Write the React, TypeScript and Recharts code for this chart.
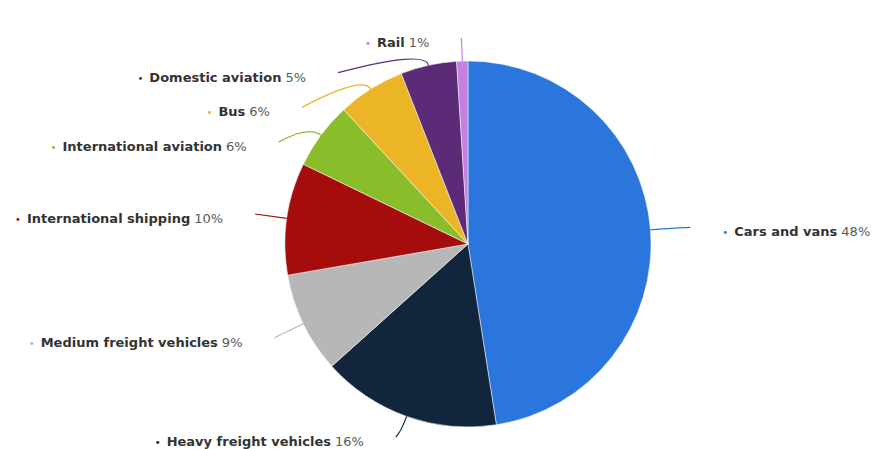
import { PieChart, Pie, Cell } from 'recharts';

const categories = [
  'Cars and vans',
  'Heavy freight vehicles',
  'Medium freight vehicles',
  'International shipping',
  'International aviation',
  'Bus',
  'Domestic aviation',
  'Rail',
];
const shares = [48, 16, 9, 10, 6, 6, 5, 1];
const colors = ['#2a76dd', '#11263d', '#b7b7b7', '#a50d0d', '#8abd2a', '#ebb527', '#5b2b77', '#c47fe0'];

const data = categories.map((name, i) => ({ name, value: shares[i] }));

const W = 876;
const H = 449;
const CX = 468;
const CY = 244;
const R = 183;
const LABEL_R = 215; // where connectors end
const RIGHT_EXTRA = 8; // right-hand labels sit a bit further out
const GAP = 32; // connector end -> text
const ROW = 34.7; // min vertical spacing between labels
const TOP = 38;
const BOTTOM = 437;
const RAD = Math.PI / 180;
const FONT = '"DejaVu Sans", "Open Sans", sans-serif';

interface LabelPos {
  left: boolean;
  y: number;
  x: number;
}

// rough Highcharts-style label distribution
function layoutLabels(): LabelPos[] {
  const total = shares.reduce((a, b) => a + b, 0);
  let acc = 0;
  const items = shares.map((v) => {
    const mid = 90 - ((acc + v / 2) / total) * 360;
    acc += v;
    const naturalY = CY - LABEL_R * Math.sin(mid * RAD);
    return { left: Math.cos(mid * RAD) < 0, naturalY, y: naturalY, clamped: false };
  });
  [true, false].forEach((side) => {
    const list = items.filter((it) => it.left === side).sort((a, b) => a.naturalY - b.naturalY);
    let prev = -Infinity;
    list.forEach((it) => {
      let y = Math.max(it.naturalY, prev + ROW);
      if (y < TOP) { y = TOP; it.clamped = true; }
      if (y > BOTTOM) { y = BOTTOM; it.clamped = true; }
      it.y = y;
      prev = y;
    });
  });
  return items.map((it) => {
    const dy = (it.clamped ? it.naturalY : it.y) - CY;
    const dx = Math.sqrt(Math.max(0, LABEL_R * LABEL_R - dy * dy));
    return { left: it.left, y: it.y, x: it.left ? CX - dx : CX + dx + RIGHT_EXTRA };
  });
}

const labelPos = layoutLabels();

function SliceLabel(props: any) {
  const { cx, cy, midAngle, outerRadius, index } = props;
  const p = labelPos[index];
  const color = colors[index];
  const ex = cx + outerRadius * Math.cos(-midAngle * RAD);
  const ey = cy + outerRadius * Math.sin(-midAngle * RAD);
  const kx = cx + (outerRadius + 16) * Math.cos(-midAngle * RAD);
  const ky = cy + (outerRadius + 16) * Math.sin(-midAngle * RAD);
  const tx = p.left ? p.x - GAP : p.x + GAP;
  return (
    <g>
      <path d={`M${ex},${ey} Q${kx},${ky} ${p.x},${p.y}`} stroke={color} strokeWidth={1.2} fill="none" />
      <text
        x={tx}
        y={p.y + 9}
        textAnchor={p.left ? 'end' : 'start'}
        fontFamily={FONT}
        fontSize={13}
      >
        <tspan fill={color} fontSize={10}>•</tspan>
        <tspan dx={6} fill="#333333" fontWeight="bold">{categories[index]}</tspan>
        <tspan dx={4} fill="#595959">{shares[index]}%</tspan>
      </text>
    </g>
  );
}

export default function App() {
  return (
    <div style={{ position: 'absolute', left: 0, top: 0, width: W, height: H, background: '#ffffff' }}>
      <PieChart width={W} height={H} margin={{ top: 0, right: 0, bottom: 0, left: 0 }}>
        <Pie
          data={data}
          dataKey="value"
          nameKey="name"
          cx={CX}
          cy={CY}
          outerRadius={R}
          startAngle={90}
          endAngle={-270}
          stroke="#ffffff"
          strokeWidth={0.5}
          label={SliceLabel}
          labelLine={false}
          isAnimationActive={false}
        >
          {data.map((d, i) => (
            <Cell key={d.name} fill={colors[i]} />
          ))}
        </Pie>
      </PieChart>
    </div>
  );
}
